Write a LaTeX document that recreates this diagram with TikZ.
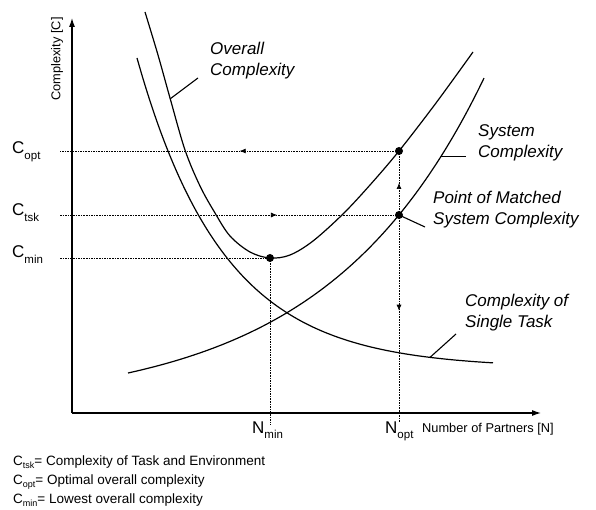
\documentclass[tikz,border=0pt]{standalone}
\usepackage{fontspec}
\setmainfont{Liberation Sans}
\usetikzlibrary{arrows.meta,decorations.markings}
\tikzset{
  curve/.style={line width=1.2pt},
  ucurve/.style={line width=1.2pt, smooth, tension=0.55},
  axis/.style={line width=1.1pt, -{Latex[length=9pt,width=6pt]}},
  guide/.style={line width=0.7pt, dash pattern=on 1.6pt off 1pt},
  lbl/.style={font=\fontsize{17}{21}\selectfont\itshape, align=left, inner sep=0pt},
  clbl/.style={font=\fontsize{17}{20}\selectfont, inner sep=0pt, anchor=base west},
  small/.style={font=\fontsize{12.8}{15}\selectfont, inner sep=0pt},
  legend/.style={font=\fontsize{13.5}{16}\selectfont, inner sep=0pt, anchor=base west},
  dot/.style={circle, fill=black, inner sep=0pt, minimum size=8pt},
  leader/.style={line width=1.1pt},
  midarrow/.style={postaction={decorate}, decoration={markings, mark=at position #1 with {\arrow{Latex[length=6pt,width=5pt]}}}},
}
\newcommand{\sbs}[1]{\raisebox{-0.33em}{\fontsize{11.5}{12}\selectfont #1}}
\newcommand{\lsbs}[1]{\raisebox{-0.28em}{\fontsize{9}{10}\selectfont #1}}
\begin{document}
\begin{tikzpicture}[x=1pt,y=-1pt,
  declare function={sysc(\t)=413-(5+35*exp(0.0063*(\t-128)));
                    task(\t)=413-(45+310*exp(-0.0115*(\t-137)));}]
\useasboundingbox (0,0) rectangle (596,510);
% axes
\coordinate (O) at (72,413);
\coordinate (ytop) at (72,18);
\coordinate (xend) at (541,413);
\draw[axis] (O) -- (ytop);
\draw[axis] (O) -- (xend);
\node[small, rotate=90] (ylab) at (57,59) {Complexity [C]};
% dots
\node[dot] (pmin) at (270,258) {};
\node[dot] (popt) at (399,151) {};
\node[dot] (ptsk) at (399,215) {};
% guide line end points
\coordinate (copt0) at (60,151);
\coordinate (ctsk0) at (60,215);
\coordinate (cmin0) at (60,258);
\coordinate (nmin0) at (270,425);
\coordinate (nopt0) at (399,423);
\draw[guide, midarrow=0.47] (popt.center) -- (copt0);
\draw[guide, midarrow=0.64] (ctsk0) -- (ptsk.center);
\draw[guide] (cmin0) -- (pmin.center);
\draw[guide] (pmin.center) -- (nmin0);
\draw[guide, midarrow=0.5] (ptsk.center) -- (popt.center);
\draw[guide, midarrow=0.46] (ptsk.center) -- (nopt0);
% curves
\draw[ucurve] plot coordinates {(145,12) (158,55) (170,98) (185,150) (200,186) (215,213) (230,236) (250,252) (270,258) (290,255) (313,241) (343,214) (370,185) (399,151) (436,103) (473,52)};
\draw[curve] plot[domain=137:493, samples=80, smooth] (\x, {task(\x)});
\draw[curve] plot[domain=128:484, samples=80, smooth] (\x, {sysc(\x)});
% leader anchor points on the curves
\coordinate (sysleg) at (441, {sysc(441)});
\coordinate (taskleg) at (430, {task(430)});
% labels
\node[lbl, anchor=base west] (overall) at (210,76) {Overall\\Complexity};
\draw[leader] (170,99) -- (198,78);
\node[lbl, anchor=base west] (system) at (478,158) {System\\Complexity};
\draw[leader] (sysleg) -- ++(25,0);
\node[lbl, anchor=base west] (matched) at (433,225) {Point of Matched\\System Complexity};
\draw[leader] (ptsk.center) -- (425,227);
\node[lbl, anchor=base west] (single) at (465,327) {Complexity of\\Single Task};
\draw[leader] (taskleg) -- (456,334);
% axis value labels
\node[clbl] (copt) at (12,154) {C\sbs{opt}};
\node[clbl] (ctsk) at (12,216) {C\sbs{tsk}};
\node[clbl] (cmin) at (12,258) {C\sbs{min}};
\node[clbl] (nmin) at (252,433) {N\sbs{min}};
\node[clbl] (nopt) at (385,433) {N\sbs{opt}};
\node[small, anchor=base west] (xlab) at (422,432) {Number of Partners [N]};
% legend
\node[legend] (leg1) at (13,465) {C\lsbs{tsk}= Complexity of Task and Environment};
\node[legend] (leg2) at (13,484) {C\lsbs{opt}= Optimal overall complexity};
\node[legend] (leg3) at (13,503) {C\lsbs{min}= Lowest overall complexity};
\end{tikzpicture}
\end{document}
